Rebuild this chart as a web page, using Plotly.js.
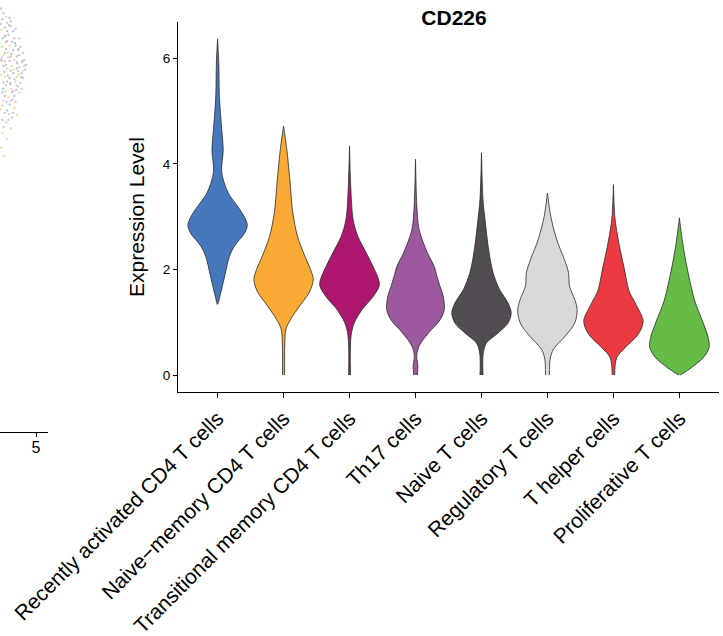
<!DOCTYPE html>
<html>
<head>
<meta charset="utf-8">
<script src="https://cdn.plot.ly/plotly-3.0.1.min.js"></script>
<style>html,body{margin:0;padding:0;background:#fff;}#chart{width:723px;height:636px;}</style>
</head>
<body>
<div id="chart"></div>
<script>
// ---- data ----
const categories = ["Recently activated CD4 T cells", "Naive\u2212memory CD4 T cells", "Transitional memory CD4 T cells",
  "Th17 cells", "Naive T cells", "Regulatory T cells", "T helper cells", "Proliferative T cells"];
const fillColors = ["#4678BE", "#F9AA35", "#AD186E", "#9D58A0", "#524B52", "#DAD8D9", "#EC3A42", "#66BB46"];

// expression levels (y) and relative density (violin width)
const levelsRecentlyActivated = [1.34, 1.50, 1.875, 2.25, 2.44, 2.70, 2.85, 3.01, 3.20, 3.45, 3.84, 4.27, 4.65, 5.29, 5.92, 6.37];
const densityRecentlyActivated = [0.0, 0.08, 0.24, 0.40, 0.56, 0.92, 1.0, 0.89, 0.67, 0.36, 0.14, 0.19, 0.14, 0.06, 0.04, 0.0];
const levelsNaiveMemory = [0.0, 0.55, 0.87, 1.05, 1.31, 1.57, 1.81, 2.0, 2.25, 2.63, 3.08, 3.71, 4.27, 4.72];
const densityNaiveMemory = [0.035, 0.04, 0.08, 0.23, 0.54, 0.87, 1.0, 0.91, 0.72, 0.47, 0.31, 0.21, 0.11, 0.0];
const levelsTransitional = [0.0, 0.74, 0.99, 1.24, 1.50, 1.69, 1.81, 2.06, 2.32, 2.63, 2.95, 3.58, 4.34];
const densityTransitional = [0.03, 0.05, 0.16, 0.42, 0.81, 1.0, 0.98, 0.79, 0.56, 0.28, 0.12, 0.04, 0.0];
const levelsTh17 = [0.0, 0.17, 0.36, 0.55, 0.80, 1.05, 1.24, 1.50, 1.69, 1.875, 2.06, 2.32, 2.76, 3.27, 4.09];
const densityTh17 = [0.06, 0.08, 0.04, 0.12, 0.44, 0.83, 0.97, 0.93, 0.82, 0.72, 0.63, 0.40, 0.12, 0.04, 0.0];
const levelsNaive = [0.0, 0.42, 0.61, 0.80, 0.99, 1.18, 1.37, 1.62, 1.94, 2.38, 2.89, 3.33, 4.21];
const densityNaive = [0.05, 0.06, 0.17, 0.56, 0.90, 1.0, 0.89, 0.61, 0.39, 0.24, 0.13, 0.05, 0.0];
const levelsRegulatory = [0.0, 0.30, 0.49, 0.74, 0.99, 1.24, 1.43, 1.69, 1.94, 2.19, 2.57, 3.01, 3.45];
const densityRegulatory = [0.07, 0.09, 0.20, 0.60, 0.92, 1.0, 0.92, 0.74, 0.71, 0.57, 0.31, 0.11, 0.0];
const levelsThelper = [0.0, 0.33, 0.52, 0.77, 1.02, 1.34, 1.59, 2.03, 2.54, 2.98, 3.61];
const densityThelper = [0.04, 0.11, 0.39, 0.83, 1.0, 0.76, 0.53, 0.36, 0.17, 0.05, 0.0];
const levelsProliferative = [0.0, 0.14, 0.33, 0.52, 0.71, 1.02, 1.40, 2.03, 2.54, 2.98];
const densityProliferative = [0.03, 0.40, 0.80, 1.0, 0.97, 0.78, 0.52, 0.26, 0.10, 0.0];

const yTicks = [0, 2, 4, 6];

// fragment of the neighbouring embedding panel (left edge)
const cloudBlueX = [2.1,2.3,2.2,2.6,2.9,2.4,3.1,3.3,2.7,3.6,3.0,2.2,3.7,3.9,2.5,3.4,4.0,2.8,3.6,4.1,2.3,3.1,3.9,2.6,3.5,2.2,3.2,2.8,2.4,3.0,
  2.05,2.45,2.75,3.25,2.15,3.55,2.35,3.85,2.95,3.45,4.15,2.65,3.75,2.25,3.35,2.85,3.05,2.55];
const cloudBlueY = [11.3,10.9,10.4,10.1,10.2,9.7,9.4,9.6,9.1,8.8,8.5,8.8,8.1,7.6,7.9,7.3,7.0,6.9,6.4,6.2,6.5,5.9,5.5,5.2,4.8,4.3,4.0,3.3,2.6,2.2,
  10.0,9.0,9.9,8.4,7.2,7.9,6.0,6.9,7.5,6.7,6.6,5.7,5.6,4.6,4.5,5.0,3.7,3.5];
const cloudOrangeX = [2.5,2.1,2.8,2.3,3.2,2.6,3.8,2.1,3.4,2.9,2.3,3.6,2.7,2.1,3.2,2.5,2.9,2.2,2.6,2.1,2.3,3.4,2.4,3.0,2.2,
  2.35,2.65,3.15,3.55,2.45,2.85,3.95,2.15,2.75,3.35];
const cloudOrangeY = [10.6,9.5,8.2,7.4,7.0,6.3,6.8,5.8,5.6,4.6,3.6,4.3,3.9,2.9,3.0,1.8,1.3,0.9,0.4,-0.3,-1.0,2.4,5.6,6.5,8.1,
  8.9,7.6,6.2,5.8,4.4,5.1,6.1,6.9,2.5,4.9];
const cloudPinkX = [2.9,3.5,2.7,4.0,3.3,2.5,3.8,2.9,2.2,3.3,2.7,2.3,3.7,2.4,3.1,2.6,3.4];
const cloudPinkY = [9.8,7.8,7.2,6.5,5.2,4.9,4.6,3.6,3.2,3.5,2.0,1.4,5.1,6.9,4.4,8.6,6.8];
const cloudGrayX = [2.6,3.3,2.4,3.6,2.9,3.8,2.3,3.0,2.6,2.2,3.1,2.8,3.4,2.5,3.2,2.1];
const cloudGrayY = [9.4,8.2,7.6,7.4,6.1,5.9,5.1,4.3,2.8,2.0,7.8,10.5,6.3,6.6,5.4,7.0];
const cloudRedX = [3.2,2.5,3.5,2.8,3.1,2.4,2.9];
const cloudRedY = [8.8,8.5,6.1,5.5,2.6,4.0,7.3];

// ---- build ----
const violinLevels = [levelsRecentlyActivated, levelsNaiveMemory, levelsTransitional, levelsTh17,
  levelsNaive, levelsRegulatory, levelsThelper, levelsProliferative];
const violinDensity = [densityRecentlyActivated, densityNaiveMemory, densityTransitional, densityTh17,
  densityNaive, densityRegulatory, densityThelper, densityProliferative];
const halfWidth = 0.45;

const traces = [];
categories.forEach((cat, i) => {
  const lv = violinLevels[i], dn = violinDensity[i];
  const xs = [], ys = [];
  for (let k = 0; k < lv.length; k++) { xs.push(i - dn[k] * halfWidth); ys.push(lv[k]); }
  for (let k = lv.length - 1; k >= 0; k--) { xs.push(i + dn[k] * halfWidth); ys.push(lv[k]); }
  traces.push({
    type: 'scatter', mode: 'lines', x: xs, y: ys, fill: 'toself',
    fillcolor: fillColors[i], line: {color: '#2a2a2a', width: 0.8, shape: 'spline', smoothing: 0.9},
    name: cat, showlegend: false, hoverinfo: 'skip', xaxis: 'x', yaxis: 'y'
  });
});

const cloudSets = [
  [cloudBlueX, cloudBlueY, '#6f95d0'],
  [cloudOrangeX, cloudOrangeY, '#f3b24f'],
  [cloudPinkX, cloudPinkY, '#d983b6'],
  [cloudGrayX, cloudGrayY, '#8c8c9c'],
  [cloudRedX, cloudRedY, '#e66a6a']
];
cloudSets.forEach(s => traces.push({
  type: 'scatter', mode: 'markers', x: s[0], y: s[1], xaxis: 'x2', yaxis: 'y2',
  marker: {color: s[2], size: 2.3, opacity: 0.55}, showlegend: false, hoverinfo: 'skip'
}));

const FONT = 'Arial, "Liberation Sans", Helvetica, sans-serif';
const W = 723, H = 636, B = 200, PH = H - B;

const layout = {
  width: W, height: H,
  margin: {l: 0, r: 0, t: 0, b: B, pad: 0},
  paper_bgcolor: '#fff', plot_bgcolor: 'rgba(0,0,0,0)',
  font: {family: FONT, color: '#000'},
  showlegend: false,
  title: {text: '<b>CD226</b>', font: {family: FONT, size: 21, color: '#000'},
    x: 454 / W, xanchor: 'center', xref: 'paper', y: 1 - 18 / H, yanchor: 'middle', yref: 'container'},
  xaxis: {
    domain: [178 / W, 719 / W], range: [-0.6, 7.6], anchor: 'y',
    tickmode: 'array', tickvals: categories.map((c, i) => i), ticktext: categories,
    tickangle: -45, tickfont: {family: FONT, size: 21, color: '#000'},
    ticks: 'outside', ticklen: 5, tickcolor: '#000', tickwidth: 1,
    showline: true, linecolor: '#000', linewidth: 1, showgrid: false, zeroline: false, automargin: false
  },
  yaxis: {
    domain: [(PH - 392) / PH, (PH - 22) / PH], range: [-0.32, 6.69], anchor: 'x',
    tickmode: 'array', tickvals: yTicks, ticktext: yTicks.map(String),
    tickfont: {family: FONT, size: 13.5, color: '#000'},
    ticks: 'outside', ticklen: 4, tickcolor: '#000', tickwidth: 1,
    showline: true, linecolor: '#000', linewidth: 1, showgrid: false, zeroline: false, automargin: false
  },
  xaxis2: {
    domain: [0, 48 / W], range: [2, 6], anchor: 'y2',
    tickmode: 'array', tickvals: [5], ticktext: ['5'], tickfont: {family: FONT, size: 16, color: '#000'},
    ticks: 'outside', ticklen: 4, tickcolor: '#000', tickwidth: 1, ticklabelstandoff: -3,
    showline: true, linecolor: '#000', linewidth: 1, showgrid: false, zeroline: false, automargin: false
  },
  yaxis2: {
    domain: [(PH - 432) / PH, 1], range: [-24, 12], anchor: 'x2', visible: false, showgrid: false, zeroline: false
  },
  annotations: [{
    text: 'Expression Level', textangle: -90, showarrow: false,
    xref: 'paper', yref: 'paper', x: 137 / W, y: (PH - 217) / PH, xanchor: 'center', yanchor: 'middle',
    font: {family: FONT, size: 21, color: '#000'}
  }]
};

Plotly.newPlot('chart', traces, layout, {staticPlot: true, displayModeBar: false});
</script>
</body>
</html>
